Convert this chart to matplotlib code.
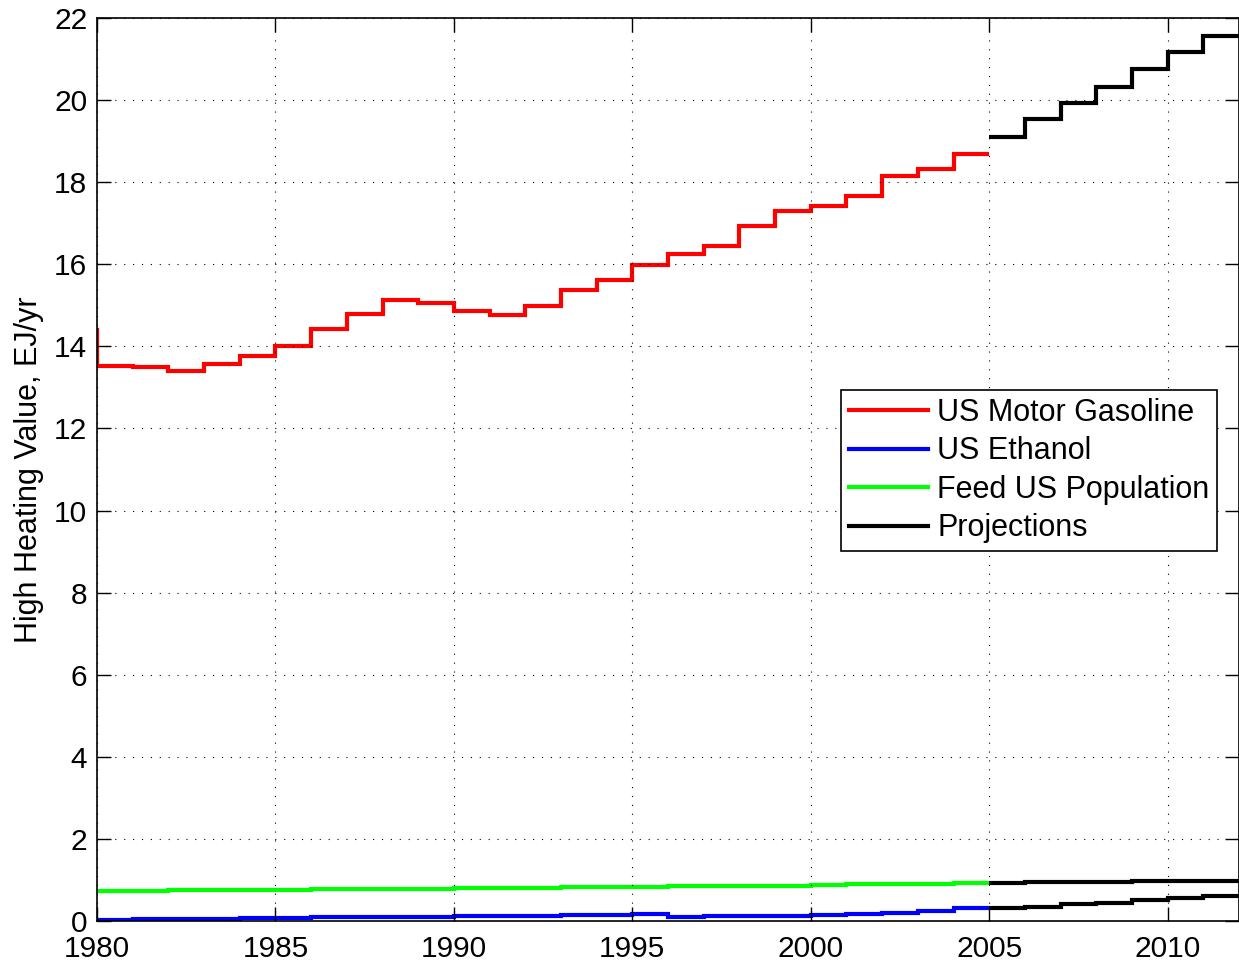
import numpy as np
import matplotlib
matplotlib.use("Agg")
import matplotlib.pyplot as plt
from matplotlib.lines import Line2D

plt.rcParams['font.family'] = ['Liberation Sans', 'DejaVu Sans']

# Consumo historico de gasolina (escalones anuales, desde 1979)
anios_gas = list(range(1979, 2005))
gasolina = [14.40, 13.52, 13.50, 13.40, 13.57, 13.76, 14.02, 14.43, 14.80, 15.12,
            15.06, 14.87, 14.77, 14.98, 15.37, 15.62, 15.99, 16.24, 16.45, 16.93,
            17.30, 17.42, 17.66, 18.16, 18.33, 18.68]

# Etanol y alimentacion de la poblacion, 1980-2004
anios_hist = list(range(1980, 2005))
etanol = [0.03, 0.04, 0.05, 0.06, 0.07, 0.08, 0.09, 0.10, 0.10, 0.10,
          0.11, 0.12, 0.13, 0.14, 0.15, 0.16, 0.09, 0.12, 0.13, 0.13,
          0.15, 0.16, 0.19, 0.25, 0.31]
poblacion = [0.73, 0.74, 0.745, 0.75, 0.76, 0.765, 0.77, 0.78, 0.785, 0.79,
             0.80, 0.81, 0.815, 0.82, 0.83, 0.84, 0.845, 0.85, 0.86, 0.865,
             0.88, 0.89, 0.90, 0.91, 0.92]

# Proyecciones 2005-2011
anios_proy = list(range(2005, 2012))
proy_gasolina = [19.11, 19.53, 19.92, 20.32, 20.75, 21.16, 21.57]
proy_etanol = [0.31, 0.35, 0.41, 0.45, 0.50, 0.55, 0.61]
proy_poblacion = [0.93, 0.94, 0.95, 0.955, 0.965, 0.975, 0.985]

etiquetas = ['US Motor Gasoline', 'US Ethanol', 'Feed US Population', 'Projections']
colores = ['#ff0000', '#0000ff', '#00ff00', '#000000']


def bordes(anios):
    return anios + [anios[-1] + 1]


fig = plt.figure(figsize=(12.39, 9.63), dpi=100)
ax = fig.add_axes([0.0783, 0.0436, 0.9217, 0.9377])

lw = 3
ax.stairs(gasolina, bordes(anios_gas), baseline=None, color=colores[0], lw=lw)
ax.stairs(etanol, bordes(anios_hist), baseline=None, color=colores[1], lw=lw)
ax.stairs(poblacion, bordes(anios_hist), baseline=None, color=colores[2], lw=lw)
for serie in (proy_gasolina, proy_etanol, proy_poblacion):
    ax.stairs(serie, bordes(anios_proy), baseline=None, color=colores[3], lw=lw)

ax.set_xlim(1980, 2012)
ax.set_ylim(0, 22)
ax.set_xticks(range(1980, 2011, 5))
ax.set_yticks(range(0, 23, 2))
ax.tick_params(direction='in', length=10, width=1, labelsize=21.5,
               top=True, right=True)
ax.tick_params(axis='x', pad=10)
ax.tick_params(axis='y', pad=7)
ax.grid(True, linestyle=(0, (1, 7)), color='black', linewidth=0.8)
for lado in ax.spines.values():
    lado.set_linewidth(1.2)

ax.set_ylabel('High Heating Value, EJ/yr', fontsize=22, labelpad=7)

handles = [Line2D([], [], color=c, lw=lw) for c in colores]
leg = ax.legend(handles, etiquetas, loc='upper right',
                bbox_to_anchor=(0.981, 0.588), fontsize=22, fancybox=False,
                framealpha=1, edgecolor='black', handlelength=2.6,
                handletextpad=0.3, borderpad=0.25, labelspacing=0.28,
                borderaxespad=0.0)
leg.get_frame().set_linewidth(1.2)

fig.savefig('out.png', dpi=100)
